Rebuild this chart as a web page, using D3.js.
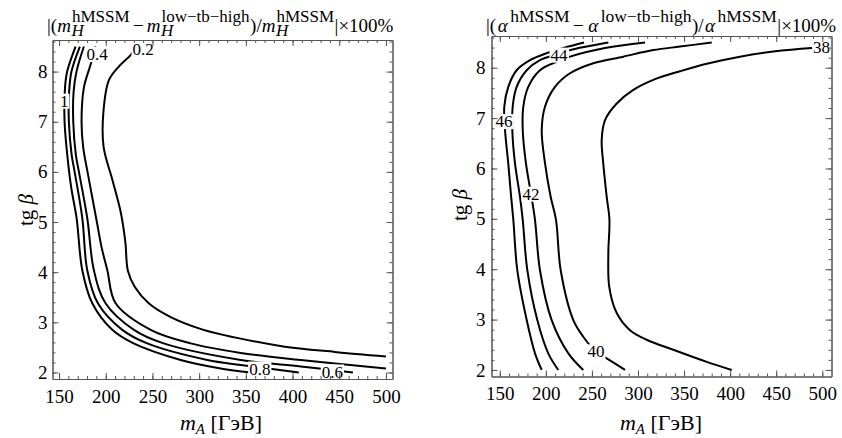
<!DOCTYPE html>
<html><head><meta charset="utf-8">
<script src="https://cdn.jsdelivr.net/npm/d3@7"></script>
<style>
body{margin:0;background:#fff}
text{font-family:"Liberation Serif","Times New Roman",serif;fill:#000}
</style>
</head><body>
<svg id="c" width="842" height="438"></svg>
<script>
// ---------- data ----------
const xTickValues = [150, 200, 250, 300, 350, 400, 450, 500];
const yTickValues = [2, 3, 4, 5, 6, 7, 8];
const xMinorTicks = [150,160,170,180,190,200,210,220,230,240,250,260,270,280,290,300,310,320,330,340,350,360,370,380,390,400,410,420,430,440,450,460,470,480,490,500];
const yMinorTicks = [2,2.2,2.4,2.6,2.8,3,3.2,3.4,3.6,3.8,4,4.2,4.4,4.6,4.8,5,5.2,5.4,5.6,5.8,6,6.2,6.4,6.6,6.8,7,7.2,7.4,7.6,7.8,8,8.2,8.4,8.6];

// left panel: |(mH^hMSSM - mH^low-tb-high)/mH^hMSSM| x 100%, contour levels
const mhLevels = ["1", "0.8", "0.6", "0.4", "0.2"];
const mh10 = [[167.7,8.5],[158.8,8.01],[156.4,7.68],[155.9,7.01],[158.8,6.34],[163.1,5.68],[168.8,5.08],[174.9,4.04],[185.6,3.38],[207.0,2.85],[229.8,2.58],[280.2,2.25],[323.1,2.08],[355.2,2.0]];
const mh08 = [[172.3,8.5],[163.4,8.01],[160.8,7.6],[160.5,7.01],[163.5,6.34],[166.6,6.01],[174.9,5.08],[180.2,4.04],[191.6,3.38],[217.7,2.85],[244.5,2.58],[308.8,2.25],[344.5,2.15],[406.7,2.0]];
const mh06 = [[176.6,8.5],[168.8,8.01],[165.6,7.6],[165.2,7.01],[168.0,6.34],[171.2,6.01],[180.2,5.08],[187.3,4.04],[199.8,3.38],[230.2,2.85],[262.0,2.58],[344.5,2.25],[408.8,2.12],[464.6,2.0]];
const mh04 = [[189.1,8.5],[183.8,8.14],[176.6,7.68],[174.1,7.01],[175.8,6.5],[180.5,6.0],[185.5,5.5],[190.5,5.0],[195.5,4.5],[201.7,4.04],[210.6,3.38],[248.1,2.85],[290.9,2.58],[344.5,2.39],[408.8,2.25],[500,2.08]];
const mh02 = [[233.1,8.5],[226.6,8.33],[214.0,8.1],[203.4,7.83],[197.4,7.17],[197.7,6.5],[207.3,5.83],[216.0,5.2],[221.0,4.6],[223.7,4.03],[231.0,3.71],[246.0,3.38],[269.0,3.11],[303.0,2.86],[338.0,2.70],[390.0,2.52],[445.0,2.41],[500,2.32]];
const mhLabelPos = [[155.5,7.41],[364.9,2.07],[442.6,2.01],[190.9,8.34],[240.0,8.44]];

// right panel: |(alpha^hMSSM - alpha^low-tb-high)/alpha^hMSSM| x 100%, contour levels
const alLevels = ["46", "44", "42", "40", "38"];
const al46 = [[195.5,2.0],[188.2,2.33],[179.2,2.99],[169.0,3.98],[164.7,4.98],[162.0,5.5],[159.2,6.10],[155.7,6.76],[154.9,7.23],[159.2,7.62],[168.3,7.95],[182.8,8.15],[200.9,8.29],[220.8,8.40],[241.4,8.5]];
const al44 = [[213.5,2.0],[202.6,2.33],[190.7,2.99],[179.9,3.98],[174.9,4.98],[171.9,5.44],[166.5,6.10],[163.6,6.76],[164.0,7.23],[168.3,7.62],[179.2,7.95],[193.6,8.15],[213.2,8.27],[226.2,8.35],[267.8,8.5]];
const al42 = [[240.6,2.0],[224.4,2.33],[206.3,2.99],[193.6,3.98],[188.2,4.98],[183.9,5.49],[178.4,6.10],[174.9,6.76],[175.5,7.23],[180.9,7.62],[193.6,7.95],[211.8,8.12],[226.2,8.22],[264.2,8.39],[307.6,8.5]];
const al40 = [[285.9,2.0],[266.0,2.23],[254.4,2.36],[240.6,2.66],[229.8,2.99],[216.1,3.98],[211.0,4.98],[205.2,5.44],[199.1,6.10],[195.5,6.76],[199.1,7.23],[209.9,7.62],[226.2,7.89],[251.5,8.09],[284.0,8.22],[316.6,8.35],[345.6,8.42],[380.0,8.5]];
const al38 = [[401.7,2.0],[374.6,2.16],[338.3,2.40],[309.4,2.60],[291.3,2.79],[276.9,3.13],[268.8,3.65],[267.8,4.32],[269.0,4.98],[266.0,5.44],[262.3,6.10],[260.6,6.57],[264.2,6.96],[276.9,7.29],[294.9,7.56],[316.6,7.76],[345.6,7.93],[374.6,8.08],[410.7,8.22],[446.8,8.32],[488.5,8.39],[500,8.40]];
const alLabelPos = [[154.6,6.93],[214.3,8.25],[183.9,5.49],[254.4,2.36],[499.2,8.40]];

// titles
const leftTitle = [{t:"|("},{t:"m",i:1,sup:"hMSSM",sub:"H"},{t:"−",pad:3},{t:"m",i:1,sup:"low−tb−high",sub:"H"},{t:")/"},{t:"m",i:1,sup:"hMSSM",sub:"H"},{t:"|×100%"}];
const rightTitle = [{t:"|("},{t:"α",i:1,pad:1.5,sup:"hMSSM"},{t:"−",pad:3},{t:"α",i:1,pad:1.5,sup:"low−tb−high"},{t:")/"},{t:"α",i:1,pad:1.5,sup:"hMSSM"},{t:"|×100%"}];

// ---------- drawing ----------
const svg = d3.select("#c");
const SERIF = '"Liberation Serif","Times New Roman",serif';

function drawTitle(x0, base, pieces, F, S) {
  const g = svg.append("g");
  let x = x0;
  pieces.forEach(p => {
    if (p.pad) x += p.pad;
    const t = g.append("text").attr("x", x).attr("y", base).attr("font-size", F)
      .style("font-style", p.i ? "italic" : "normal").text(p.t);
    x += t.node().getComputedTextLength();
    if (p.pad) x += p.pad;
    let ws = 0, wb = 0;
    if (p.sup) {
      const s = g.append("text").attr("x", x + 1).attr("y", base - 10.3).attr("font-size", S).text(p.sup);
      ws = s.node().getComputedTextLength();
    }
    if (p.sub) {
      const s = g.append("text").attr("x", x + 0.5).attr("y", base + 4).attr("font-size", S)
        .style("font-style", "italic").text(p.sub);
      wb = s.node().getComputedTextLength();
    }
    if (p.sup || p.sub) x += Math.max(ws, wb) + 1.5;
  });
  return x;
}

function panel(cfg) {
  const x = d3.scaleLinear().domain(cfg.xd).range([cfg.x0, cfg.x1]);
  const y = d3.scaleLinear().domain(cfg.yd).range([cfg.y1, cfg.y0]);
  const g = svg.append("g");

  const line = d3.line().x(d => x(d[0])).y(d => y(d[1])).curve(d3.curveCatmullRom.alpha(0.5));
  cfg.curves.forEach(c => {
    g.append("path").attr("d", line(c)).attr("fill", "none").attr("stroke", "#000")
      .attr("stroke-width", 2).attr("stroke-linejoin", "round");
  });

  cfg.levels.forEach((lab, i) => {
    const p = cfg.labelPos[i];
    const t = g.append("text").attr("x", x(p[0])).attr("y", y(p[1])).attr("dy", "0.33em")
      .attr("text-anchor", "middle").attr("font-size", 17).text(lab);
    const b = t.node().getBBox();
    g.insert("rect", function(){ return t.node(); })
      .attr("x", b.x - 1).attr("y", y(p[1]) - 7.5).attr("width", b.width + 2).attr("height", 15)
      .attr("fill", "#fff");
  });

  const ax = svg.append("g");
  const mk = (axis, tx, ty, vals, size, fmt, pad) => {
    const a = axis.tickValues(vals).tickSize(size).tickSizeOuter(0).tickPadding(pad)
      .tickFormat(fmt ? d3.format("d") : "");
    const gg = ax.append("g").attr("transform", `translate(${tx},${ty})`).call(a)
      .attr("font-family", SERIF).attr("font-size", 19);
    gg.selectAll("path.domain").attr("stroke", "#555");
    gg.selectAll(".tick line").attr("stroke", "#555");
    gg.selectAll("text").attr("fill", "#000");
    return gg;
  };
  mk(d3.axisBottom(x), 0, cfg.y1, xMinorTicks, -3, false, 0);
  mk(d3.axisBottom(x), 0, cfg.y1, xTickValues, -6, true, 10.5);
  mk(d3.axisTop(x), 0, cfg.y0, xMinorTicks, -3, false, 0);
  mk(d3.axisTop(x), 0, cfg.y0, xTickValues, -6, false, 0);
  mk(d3.axisLeft(y), cfg.x0, 0, yMinorTicks, -3, false, 0);
  mk(d3.axisLeft(y), cfg.x0, 0, yTickValues, -6, true, cfg.ypad);
  mk(d3.axisRight(y), cfg.x1, 0, yMinorTicks, -3, false, 0);
  mk(d3.axisRight(y), cfg.x1, 0, yTickValues, -6, false, 0);

  const xt = svg.append("text").attr("x", cfg.xtX).attr("y", 430).attr("text-anchor", "middle").attr("font-size", 22);
  xt.append("tspan").style("font-style", "italic").text("m");
  xt.append("tspan").style("font-style", "italic").attr("font-size", 15).attr("dy", 4).text("A");
  xt.append("tspan").attr("dy", -4).text(" [ГэВ]");

  const yt = svg.append("text").attr("transform", `translate(${cfg.ytX},${cfg.ytY}) rotate(-90)`)
    .attr("text-anchor", "middle").attr("font-size", 21);
  yt.append("tspan").text("tg ");
  yt.append("tspan").style("font-style", "italic").text("β");
}

panel({x0: 52.5, x1: 392.5, y0: 40, y1: 379, xd: [143, 507], yd: [1.87, 8.63],
  curves: [mh10, mh08, mh06, mh04, mh02], levels: mhLevels, labelPos: mhLabelPos,
  ypad: 5, xtX: 221, ytX: 33, ytY: 210});
panel({x0: 491.5, x1: 831.5, y0: 36, y1: 376.5, xd: [141, 510], yd: [1.87, 8.63],
  curves: [al46, al44, al42, al40, al38], levels: alLevels, labelPos: alLabelPos,
  ypad: 6, xtX: 661, ytX: 467, ytY: 205});

drawTitle(47, 32, leftTitle, 19, 17);
drawTitle(486, 32, rightTitle, 19, 17.5);
</script>
</body></html>
